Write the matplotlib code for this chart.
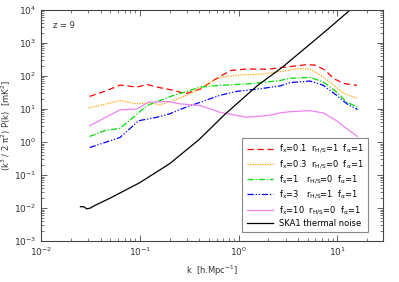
"""
21cm power spectrum at z = 9 with SKA1 thermal noise
"""
import matplotlib
matplotlib.use('Agg')
import matplotlib.pyplot as plt
from matplotlib.ticker import LogLocator, NullFormatter

# fx=0.1 rH/S=1
k_red = [0.031, 0.045, 0.063, 0.093, 0.118, 0.16, 0.217, 0.29, 0.41, 0.55, 0.82, 1.2, 2.0, 3.0, 4.9, 6.0, 7.5, 9.2, 11.6, 15.8]
p_red = [24, 35, 53, 46, 55, 44, 37, 29, 40, 72, 145, 162, 160, 185, 220, 212, 150, 83, 59, 52]

# fx=0.3 rH/S=0
k_orange = [0.030, 0.045, 0.063, 0.093, 0.127, 0.16, 0.217, 0.30, 0.41, 0.65, 1.04, 1.66, 2.63, 3.9, 5.3, 7.0, 9.2, 11.6, 15.8]
p_orange = [10.6, 14, 18, 14.3, 15.4, 13.3, 18, 26, 43, 90, 108, 112, 135, 165, 160, 100, 52, 30, 21]

# fx=1 rH/S=0
k_green = [0.031, 0.044, 0.063, 0.086, 0.118, 0.16, 0.22, 0.30, 0.41, 0.65, 1.2, 2.6, 3.3, 5.3, 7.2, 9.8, 12.5, 16]
p_green = [1.47, 2.2, 2.6, 5.6, 12.7, 18, 26, 34, 46, 52, 57, 72, 85, 90, 66, 33, 16, 11.4]

# fx=3 rH/S=1
k_blue = [0.031, 0.063, 0.097, 0.148, 0.2, 0.276, 0.41, 0.65, 0.95, 1.66, 2.63, 3.33, 5.3, 7.2, 9.8, 12.5, 16]
p_blue = [0.68, 1.37, 4.4, 5.6, 7.1, 10.6, 16, 26, 34, 41, 50, 63, 70, 52, 26, 14.3, 9.6]

# fx=10 rH/S=0
k_pink = [0.031, 0.063, 0.093, 0.122, 0.19, 0.256, 0.41, 0.65, 1.21, 1.94, 2.63, 3.33, 5.3, 7.2, 9.8, 12.5, 16]
p_pink = [3.1, 9.4, 10, 16, 16.8, 14.3, 12.7, 7.9, 5.6, 6.3, 7.6, 8.3, 8.9, 7.6, 4.4, 2.5, 1.47]

# SKA1 thermal noise
k_noise = [0.025, 0.027, 0.029, 0.031, 0.035, 0.05, 0.1, 0.2, 0.4, 0.73, 1.55, 2.75, 5.0, 8.0, 13.5, 20.0]
p_noise = [0.011, 0.011, 0.0095, 0.0098, 0.012, 0.02, 0.059, 0.22, 1.2, 7.0, 51, 180, 800, 2600, 1e4, 2.8e4]

labels = [
    r'f$_{\rm x}$=0.1  r$_{\rm H/S}$=1  f$_{\alpha}$=1',
    r'f$_{\rm x}$=0.3  r$_{\rm H/S}$=0  f$_{\alpha}$=1',
    r'f$_{\rm x}$=1   r$_{\rm H/S}$=0  f$_{\alpha}$=1',
    r'f$_{\rm x}$=3   r$_{\rm H/S}$=1  f$_{\alpha}$=1',
    r'f$_{\rm x}$=10  r$_{\rm H/S}$=0  f$_{\alpha}$=1',
    'SKA1 thermal noise',
]

plt.rcParams['mathtext.default'] = 'regular'
plt.rcParams['font.size'] = 6

fig = plt.figure(figsize=(3.99, 2.82), dpi=100)
ax = fig.add_axes([0.103, 0.145, 0.857, 0.82])

lw = 0.9
ax.plot(k_red, p_red, color='#ff0000', ls=(0, (5, 3)), lw=lw, label=labels[0])
ax.plot(k_orange, p_orange, color='#ffa500', ls=(0, (1, 1)), lw=lw, label=labels[1])
ax.plot(k_green, p_green, color='#00e000', ls=(0, (5, 1.5, 1, 1.5)), lw=lw, label=labels[2])
ax.plot(k_blue, p_blue, color='#0000ff', ls=(0, (5, 1.5, 1, 1.5, 1, 1.5)), lw=lw, label=labels[3])
ax.plot(k_pink, p_pink, color='#ee82ee', ls='-', lw=lw, label=labels[4])
ax.plot(k_noise, p_noise, color='black', ls='-', lw=lw, label=labels[5])

ax.set_xscale('log')
ax.set_yscale('log')
ax.set_xlim(1e-2, 29)
ax.set_ylim(1e-3, 1e4)

for axis in (ax.xaxis, ax.yaxis):
    axis.set_major_locator(LogLocator(base=10, numticks=20))
    axis.set_minor_locator(LogLocator(base=10, subs=range(2, 10), numticks=20))
    axis.set_minor_formatter(NullFormatter())

ax.tick_params(which='both', direction='in', top=True, right=True, colors='#444444', labelcolor='#333333')
ax.tick_params(which='major', length=4, width=0.6, labelsize=6.5)
ax.tick_params(which='minor', length=2, width=0.5)
for s in ax.spines.values():
    s.set_color('#444444')
    s.set_linewidth(0.8)

ax.set_xlabel(r'k  [h.Mpc$^{-1}$]', fontsize=6, color='#333333')
ax.set_ylabel(r'(k$^3$ / 2 π$^2$) P(k)  [mK$^2$]', fontsize=6, color='#333333', labelpad=1)

ax.text(0.035, 0.95, 'z = 9', transform=ax.transAxes, fontsize=6, color='#333333', va='top')

leg = ax.legend(loc='lower right', bbox_to_anchor=(0.968, 0.02), fontsize=6,
                handlelength=3.2, fancybox=False, framealpha=1,
                borderpad=0.5, labelspacing=0.3, handletextpad=0.7)
leg.get_frame().set_edgecolor('#888888')
leg.get_frame().set_linewidth(0.8)

plt.savefig('out.png', dpi=100)
plt.close()
